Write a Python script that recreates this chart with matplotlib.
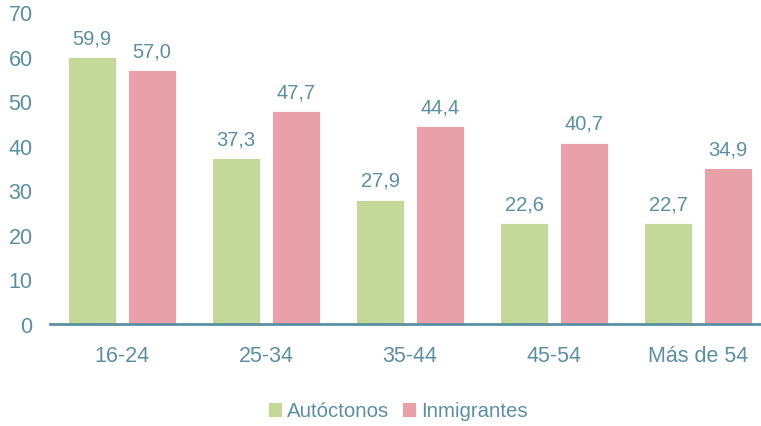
import matplotlib

matplotlib.use("Agg")
import matplotlib.pyplot as plt
import numpy as np

plt.rcParams["font.family"] = ["Liberation Sans", "DejaVu Sans"]

categories = ["16-24", "25-34", "35-44", "45-54", "Más de 54"]
autoctonos = [59.9, 37.3, 27.9, 22.6, 22.7]
inmigrantes = [57.0, 47.7, 44.4, 40.7, 34.9]
series_names = ["Autóctonos", "Inmigrantes"]

text_color = "#5b8fa1"
green = "#c3d899"
pink = "#e8a1a8"

fig = plt.figure(figsize=(7.61, 4.27), dpi=100)
ax = fig.add_axes([50 / 761, (427 - 325) / 427, 720 / 761, 312 / 427])

x = np.arange(len(categories))
w = 1 / 3
off = 0.2083
b1 = ax.bar(x - off, autoctonos, width=w, color=green, edgecolor="white", linewidth=0.6, label=series_names[0])
b2 = ax.bar(x + off, inmigrantes, width=w, color=pink, edgecolor="white", linewidth=0.6, label=series_names[1])

for bars, vals in ((b1, autoctonos), (b2, inmigrantes)):
    for rect, v in zip(bars, vals):
        ax.annotate(f"{v:.1f}".replace(".", ","),
                    (rect.get_x() + rect.get_width() / 2, v),
                    xytext=(0, 7), textcoords="offset points",
                    ha="center", va="bottom", fontsize=14.5, color=text_color)

ax.set_xlim(-0.5, len(categories) - 0.5)
ax.set_ylim(0, 70)
ax.set_yticks(range(0, 71, 10))
ax.set_xticks(x)
ax.set_xticklabels(categories)
ax.tick_params(axis="y", length=0, pad=12.5, labelsize=15.5, labelcolor=text_color)
ax.tick_params(axis="x", length=0, pad=15, labelsize=15.5, labelcolor=text_color)

for side in ("top", "right", "left"):
    ax.spines[side].set_visible(False)
ax.spines["bottom"].set_color(text_color)
ax.spines["bottom"].set_linewidth(2)
ax.spines["bottom"].set_clip_on(False)

fig.legend(handles=[b1, b2], loc="center", bbox_to_anchor=(398 / 761, 1 - 412 / 427),
           ncol=2, frameon=False, fontsize=14.7, labelcolor=text_color,
           handlelength=0.7, handleheight=0.7, handletextpad=0.25, columnspacing=0.6)

fig.savefig("out.png", dpi=100)
